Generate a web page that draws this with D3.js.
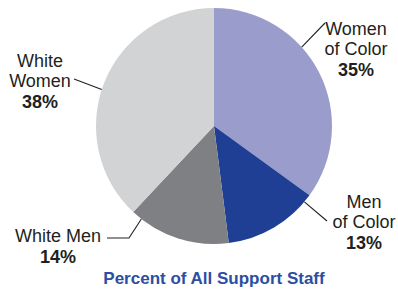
<!DOCTYPE html>
<html>
<head>
<meta charset="utf-8">
<script src="https://cdn.jsdelivr.net/npm/d3@7"></script>
<style>
  html, body { margin:0; padding:0; background:#fff; }
  svg { display:block; font-family:"Liberation Sans", Arial, sans-serif; }
</style>
</head>
<body>
<svg id="chart" width="398" height="290"></svg>
<script>
// Data
const categories = ['Women of Color', 'Men of Color', 'White Men', 'White Women'];
const shares = [35, 13, 14, 38];
const labelLines = [['Women', 'of Color'], ['Men', 'of Color'], ['White Men'], ['White', 'Women']];
const colors = ['#9a9ccb', '#1e3f94', '#7f8083', '#d2d3d5'];
const title = 'Percent of All Support Staff';

// Layout
const W = 398, H = 290, cx = 214, cy = 126, R = 118;
// leader anchor angle on the rim (deg), polyline points outside, label centre x and first baseline
const layout = [
  {a:48,  pts:[[325,23]],            lx:356, ly:35},
  {a:130, pts:[[327,221]],           lx:364, ly:208},
  {a:218, pts:[[129,238],[107,238]], lx:58,  ly:242},
  {a:288, pts:[[74,79]],             lx:40,  ly:67}
];

const svg = d3.select('#chart');
const g = svg.append('g').attr('transform', `translate(${cx},${cy})`);

const pie = d3.pie().sort(null).value(d => d);
const arc = d3.arc().innerRadius(0).outerRadius(R);

g.selectAll('path.slice').data(pie(shares)).join('path')
  .attr('class','slice')
  .attr('d', arc)
  .attr('fill', (d,i) => colors[i]);

// leader lines
const line = d3.line();
layout.forEach((L,i)=>{
  const t = L.a*Math.PI/180;
  const start = [cx + R*Math.sin(t), cy - R*Math.cos(t)];
  svg.append('path')
    .attr('d', line([start, ...L.pts]))
    .attr('fill','none').attr('stroke','#231f20').attr('stroke-width',1.1);
});

// labels
layout.forEach((L,i)=>{
  const txt = svg.append('text').attr('text-anchor','middle').attr('fill','#231f20').attr('font-size',18);
  labelLines[i].forEach((s,j)=>{
    txt.append('tspan').attr('x', L.lx).attr('y', L.ly + j*20).text(s);
  });
  txt.append('tspan').attr('x', L.lx).attr('y', L.ly + labelLines[i].length*20 + 1)
    .attr('font-weight','bold').text(shares[i] + '%');
});

svg.append('text')
  .attr('x', cx).attr('y', 284)
  .attr('text-anchor','middle')
  .attr('font-size',17).attr('font-weight','bold')
  .attr('fill','#2b4ea2')
  .text(title);
</script>
</body>
</html>
